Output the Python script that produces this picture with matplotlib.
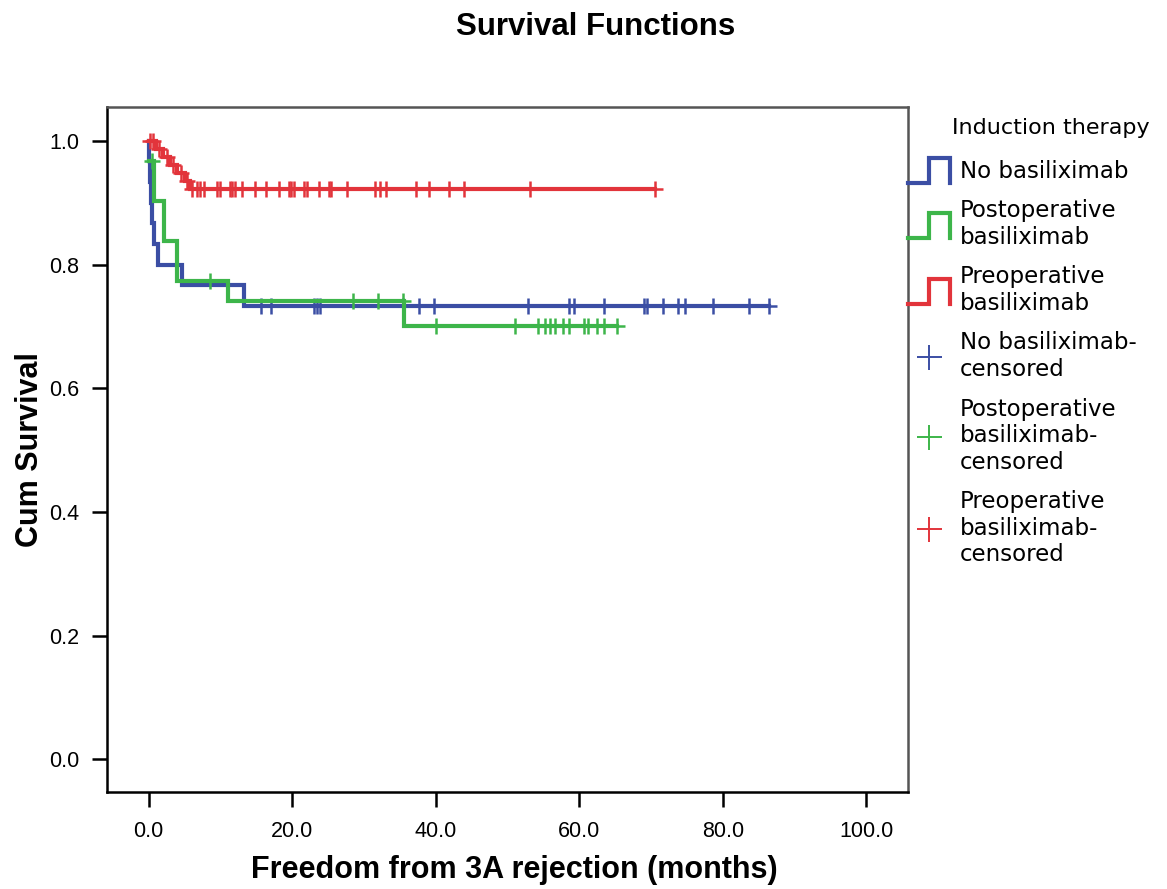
import numpy as np
import matplotlib
matplotlib.use('Agg')
import matplotlib.pyplot as plt
from matplotlib.lines import Line2D
from matplotlib.legend_handler import HandlerBase

# Kaplan-Meier curves: step times / survival levels
no_t = [0, 0.1, 0.2, 0.3, 0.5, 0.8, 1.3, 4.6, 13.3]
no_s = [1.0, 0.967, 0.933, 0.900, 0.867, 0.833, 0.800, 0.767, 0.733]
no_cens = [15.6, 17.1, 23.0, 23.4, 23.9, 35.5, 37.6, 39.8, 52.9, 58.6, 59.3,
           63.4, 69.0, 69.4, 71.7, 73.7, 74.7, 78.7, 83.7, 86.5]

post_t = [0, 0.7, 2.2, 3.9, 11.1, 35.6]
post_s = [0.968, 0.903, 0.839, 0.774, 0.742, 0.700]
post_cens = [0.4, 8.6, 28.5, 32.0, 35.5, 40.1, 51.0, 54.3, 55.2, 55.9, 56.6,
             57.8, 58.5, 60.7, 61.2, 62.4, 63.5, 65.2]

pre_t = [0, 1.0, 2.0, 3.0, 4.0, 5.0, 5.7]
pre_s = [1.0, 0.987, 0.974, 0.961, 0.948, 0.935, 0.922]
pre_cens = [0.2, 0.6, 1.5, 2.5, 3.4, 4.5, 5.3, 6.0, 6.7, 7.1, 7.7, 9.5, 9.9,
            11.3, 11.6, 12.0, 13.0, 14.8, 16.4, 18.1, 19.5, 19.9, 20.3, 21.7,
            22.1, 23.7, 25.1, 25.4, 27.6, 31.5, 32.2, 33.1, 37.2, 39.1, 41.8,
            43.9, 53.1, 70.5]

labels = ['No basiliximab', 'Postoperative\nbasiliximab', 'Preoperative\nbasiliximab']
cens_labels = ['No basiliximab-\ncensored', 'Postoperative\nbasiliximab-\ncensored',
               'Preoperative\nbasiliximab-\ncensored']
colors = ['#3b4ea4', '#3db54a', '#e2343b']


class StepHandler(HandlerBase):
    # SPSS-style little step glyph for the curve entries
    def create_artists(self, legend, orig_handle, xdescent, ydescent,
                       width, height, fontsize, trans):
        x0 = -xdescent
        y0 = -ydescent - 0.3 * height
        y1 = -ydescent + 1.25 * height
        xs = [x0, x0 + 0.5 * width, x0 + 0.5 * width, x0 + width, x0 + width]
        ys = [y0, y0, y1, y1, y0]
        ln = Line2D(xs, ys, color=orig_handle.get_color(), lw=3,
                    solid_joinstyle='miter', transform=trans)
        return [ln]


fig = plt.figure(figsize=(11.67, 8.89), dpi=100)
ax = fig.add_axes([107/1167, 1-792/889, 801/1167, 685/889])

groups = [(no_t, no_s, no_cens), (post_t, post_s, post_cens), (pre_t, pre_s, pre_cens)]
step_handles = []
cens_handles = []
for (t, s, c), col in zip(groups, colors):
    t = np.array(t); s = np.array(s); c = np.array(c)
    tx = np.append(t, c.max())
    sy = np.append(s, s[-1])
    h, = ax.step(tx, sy, where='post', color=col, lw=3, solid_joinstyle='miter')
    idx = np.searchsorted(t, c, side='right') - 1
    ax.plot(c, s[idx], ls='none', marker='+', ms=12, mew=1.8, color=col)
    step_handles.append(h)
    cens_handles.append(Line2D([], [], ls='none', marker='+', ms=18, mew=1.4, color=col))

ax.set_xlim(-5.8, 105.8)
ax.set_ylim(-0.053, 1.055)
ax.set_xticks(np.arange(0, 101, 20))
ax.set_xticklabels([f'{v:.1f}' for v in np.arange(0, 101, 20)])
ax.set_yticks(np.arange(0, 1.01, 0.2))
ax.set_yticklabels([f'{v:.1f}' for v in np.arange(0, 1.01, 0.2)])
ax.tick_params(direction='out', length=11, width=1.8, labelsize=15.5)
ax.tick_params(axis='x', pad=10)
ax.tick_params(axis='y', pad=9)
for lab in ax.get_xticklabels() + ax.get_yticklabels():
    lab.set_family('Liberation Sans')
for side in ['left', 'bottom']:
    ax.spines[side].set_linewidth(1.8)
    ax.spines[side].set_color('black')
for side in ['top', 'right']:
    ax.spines[side].set_linewidth(1.8)
    ax.spines[side].set_color('#555555')

hmap = {h: StepHandler() for h in step_handles}
leg = ax.legend(step_handles + cens_handles, labels + cens_labels,
                loc='upper left', bbox_to_anchor=(1.0, 0.923), frameon=False,
                prop={'family': 'DejaVu Sans', 'size': 16.5},
                handler_map=hmap,
                handlelength=1.85, handletextpad=0.42, labelspacing=0.72,
                borderaxespad=0, borderpad=0)
fig.text(952/1167, 1-128/889, 'Induction therapy', ha='left', va='center',
         fontsize=16, family='DejaVu Sans')

fig.text(596/1167, 1-27/889, 'Survival Functions', ha='center', va='center',
         fontsize=22.5, fontweight='bold', family='Liberation Sans')
fig.text(514/1167, 1-870/889, 'Freedom from 3A rejection (months)', ha='center',
         va='center', fontsize=22, fontweight='bold', family='Liberation Sans')
fig.text(30/1167, 1-450/889, 'Cum Survival', ha='center', va='center',
         rotation=90, fontsize=22, fontweight='bold', family='Liberation Sans')

plt.savefig('out.png', dpi=100)
